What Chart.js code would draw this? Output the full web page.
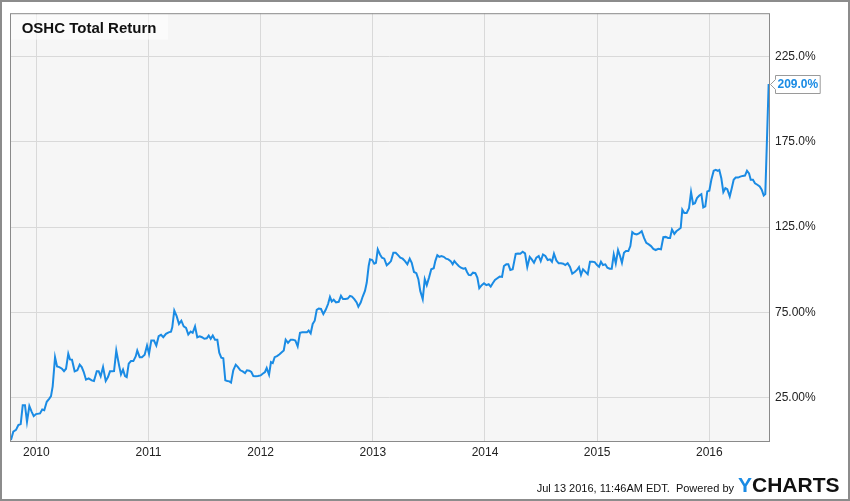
<!DOCTYPE html>
<html><head><meta charset="utf-8">
<script src="https://cdn.jsdelivr.net/npm/chart.js@4.4.0/dist/chart.umd.min.js"></script>
<style>html,body{margin:0;padding:0;background:#fff;}canvas{display:block;}</style>
</head><body>
<canvas id="c" width="850" height="501"></canvas>
<script>
const chartTitle = 'OSHC Total Return';
const footerText = 'Jul 13 2016, 11:46AM EDT.  Powered by';
const logoFirst = 'Y';
const logoRest = 'CHARTS';

// Dates as decimal years, values as total return in percent
const dates = [
2009.774,2009.795,2009.819,2009.840,2009.861,2009.879,2009.899,2009.917,2009.938,2009.959,2009.977,2009.997,2010.033,2010.053,2010.071,2010.093,2010.116,2010.131,2010.146,2010.167,2010.185,2010.205,2010.229,2010.247,2010.265,2010.285,2010.300,2010.318,2010.342,2010.366,2010.387,2010.405,2010.423,2010.443,2010.467,2010.494,2010.514,2010.539,2010.556,2010.574,2010.595,2010.619,2010.639,2010.657,2010.678,2010.693,2010.713,2010.738,2010.755,2010.773,2010.791,2010.806,2010.824,2010.844,2010.865,2010.886,2010.900,2010.922,2010.942,
2010.966,2010.987,2011.005,2011.025,2011.049,2011.070,2011.091,2011.112,2011.132,2011.156,2011.180,2011.201,2011.212,2011.230,2011.252,2011.272,2011.293,2011.314,2011.335,2011.355,2011.376,2011.394,2011.415,2011.435,2011.457,2011.477,2011.498,2011.519,2011.537,2011.555,2011.573,2011.593,2011.614,2011.631,2011.649,2011.667,2011.685,2011.703,2011.721,2011.736,2011.756,2011.778,2011.798,2011.819,2011.840,2011.861,2011.878,2011.899,2011.917,2011.935,2011.956,2011.976,2012.000,
2012.018,2012.039,2012.054,2012.075,2012.092,2012.108,2012.125,2012.146,2012.166,2012.188,2012.206,2012.223,2012.244,2012.268,2012.288,2012.309,2012.330,2012.351,2012.371,2012.393,2012.413,2012.428,2012.446,2012.464,2012.482,2012.500,2012.518,2012.538,2012.559,2012.580,2012.601,2012.618,2012.634,2012.651,2012.672,2012.696,2012.716,2012.734,2012.755,2012.776,2012.797,2012.814,2012.835,2012.856,2012.871,2012.892,2012.910,2012.930,2012.946,2012.963,2012.975,2012.995,2013.013,2013.028,2013.044,2013.064,2013.082,2013.102,2013.124,2013.144,
2013.162,2013.183,2013.204,2013.225,2013.245,2013.266,2013.287,2013.308,2013.329,2013.347,2013.367,2013.388,2013.406,2013.423,2013.445,2013.463,2013.481,2013.501,2013.521,2013.543,2013.557,2013.575,2013.593,2013.611,2013.632,2013.653,2013.673,2013.694,2013.712,2013.727,2013.744,2013.766,2013.786,2013.807,2013.825,2013.840,2013.855,2013.873,2013.893,2013.914,2013.932,2013.949,2013.971,2013.991,2014.012,2014.033,2014.051,2014.069,2014.089,2014.110,2014.131,2014.152,2014.169,2014.190,2014.208,2014.226,2014.247,
2014.274,2014.294,2014.315,2014.336,2014.357,2014.377,2014.399,2014.417,2014.437,2014.458,2014.479,2014.497,2014.517,2014.538,2014.559,2014.580,2014.597,2014.615,2014.636,2014.657,2014.678,2014.698,2014.716,2014.737,2014.758,2014.778,2014.800,2014.820,2014.838,2014.856,2014.874,2014.894,2014.916,2014.936,2014.957,2014.978,2014.999,2015.017,2015.034,2015.052,2015.073,2015.091,2015.112,2015.130,2015.148,2015.166,2015.186,2015.204,2015.221,2015.239,2015.257,2015.278,2015.296,2015.313,2015.331,2015.353,2015.373,
2015.397,2015.418,2015.438,2015.460,2015.480,2015.501,2015.522,2015.545,2015.569,2015.590,2015.611,2015.632,2015.650,2015.667,2015.688,2015.706,2015.727,2015.745,2015.759,2015.777,2015.798,2015.819,2015.837,2015.855,2015.872,2015.890,2015.911,2015.929,2015.946,2015.964,2015.982,2016.000,2016.018,2016.039,2016.057,2016.075,2016.089,2016.107,2016.125,2016.143,2016.160,2016.182,2016.200,2016.217,2016.235,2016.256,2016.276,2016.297,2016.318,2016.336,2016.354,2016.369,2016.389,2016.407,2016.428,2016.449,2016.467,2016.485,2016.499,2016.529
];
const returns = [
0.1,5.0,6.0,8.9,9.5,20.5,20.5,10.8,20.0,16.6,14.1,15.3,15.7,18.0,17.6,22.5,24.4,25.8,31.6,48.7,43.3,42.9,41.9,40.5,41.9,50.7,47.4,47.2,40.4,41.0,44.3,42.9,40.0,35.5,36.3,35.1,34.7,40.5,40.5,37.5,42.9,34.7,37.0,40.4,40.4,40.5,52.6,43.9,38.6,41.4,37.6,37.0,44.9,46.4,46.4,49.1,52.6,48.7,48.7,
50.1,55.5,50.7,58.5,58.5,55.5,61.0,61.8,60.4,62.4,63.3,63.7,66.2,76.0,72.6,68.2,70.1,66.8,65.9,62.0,63.7,63.0,66.8,60.4,61.0,60.4,59.5,59.8,61.4,59.5,61.4,58.9,58.9,51.3,48.4,48.1,35.1,34.7,34.5,33.8,41.0,44.3,42.9,41.0,40.4,39.4,41.0,40.8,40.0,37.6,37.5,37.6,38.0,
39.0,40.0,42.3,38.4,45.8,45.2,48.7,49.3,50.3,51.6,52.6,59.0,57.1,59.0,59.0,58.5,55.1,63.0,63.3,63.3,63.3,64.3,62.7,68.2,70.1,76.5,77.3,77.0,74.0,76.5,79.9,84.1,81.4,82.4,80.8,81.2,84.7,82.8,82.8,83.1,84.7,84.3,82.8,80.8,78.3,80.8,84.3,87.6,92.5,102.2,106.1,105.7,103.6,104.1,112.0,109.0,107.1,106.5,102.6,103.8,
105.1,110.0,110.0,108.6,107.1,106.5,105.1,103.2,106.5,104.1,98.7,98.0,94.5,87.6,82.8,94.5,91.0,95.4,100.3,100.9,105.1,108.6,107.6,108.1,107.6,106.5,106.1,105.1,103.2,105.1,103.8,102.2,101.2,100.6,100.9,98.7,97.0,96.8,98.3,98.0,95.4,89.2,91.0,92.1,91.0,91.5,90.1,92.1,94.0,95.0,96.0,95.8,102.2,103.2,103.2,99.9,100.3,
109.4,109.6,109.4,110.6,109.6,101.6,107.5,106.1,104.1,107.1,108.1,105.1,109.0,108.1,105.7,106.1,104.7,109.4,105.5,103.8,103.8,103.6,102.8,103.8,101.6,97.7,98.7,99.9,101.6,97.0,100.3,98.9,97.4,104.7,104.7,104.5,102.8,101.8,104.7,102.8,103.2,101.2,100.6,100.6,109.0,103.8,111.6,108.1,104.1,110.0,111.0,111.0,113.9,122.1,121.1,120.7,121.3,
122.6,118.7,115.8,114.9,113.9,112.3,111.6,112.3,112.0,119.1,119.3,118.7,118.7,123.6,121.1,122.6,123.6,124.6,135.3,133.3,133.3,136.2,145.6,138.6,139.1,142.1,143.6,144.4,136.6,137.2,146.0,146.4,152.8,158.1,158.6,158.1,158.6,153.7,145.6,147.9,147.3,143.1,147.9,152.8,154.1,154.1,154.7,155.1,155.3,158.1,156.6,152.8,152.8,150.8,149.9,148.9,147.0,143.6,144.4,209.0
];
const xTickYears = [2010, 2011, 2012, 2013, 2014, 2015, 2016];
const yTickValues = [25, 75, 125, 175, 225];
const yTickLabels = ['25.00%', '75.00%', '125.0%', '175.0%', '225.0%'];

const LINE = '#1a8be4';
const FONT = '"Liberation Sans", Arial, sans-serif';
Chart.defaults.font.family = FONT;

const n = Math.min(dates.length, returns.length);
const points = [];
for (let i = 0; i < n; i++) points.push({x: dates[i], y: returns[i]});

const deco = {
  id: 'deco',
  beforeDraw(chart) {
    const {ctx, chartArea: a} = chart;
    ctx.save();
    ctx.fillStyle = '#ffffff';
    ctx.fillRect(0, 0, chart.width, chart.height);
    ctx.fillStyle = '#f6f6f6';
    ctx.fillRect(a.left, a.top, a.right - a.left, a.bottom - a.top);
    ctx.restore();
  },
  beforeDatasetsDraw(chart) {
    const {ctx, chartArea: a} = chart;
    ctx.save();
    ctx.fillStyle = 'rgba(255,255,255,0.55)';
    ctx.fillRect(a.left + 1, a.top + 1, 157, 25.5);
    ctx.fillStyle = '#111';
    ctx.font = 'bold 15px ' + FONT;
    ctx.textBaseline = 'alphabetic';
    ctx.textAlign = 'left';
    ctx.fillText(chartTitle, a.left + 11.7, a.top + 19.3);
    ctx.restore();
  },
  afterDraw(chart) {
    const {ctx, chartArea: a} = chart;
    ctx.save();
    // plot border
    ctx.strokeStyle = '#8a8a8a';
    ctx.lineWidth = 1;
    ctx.strokeRect(a.left + 0.5, a.top + 0.5, a.right - a.left, a.bottom - a.top);
    // outer frame
    ctx.lineWidth = 2;
    ctx.strokeStyle = '#8c8c8c';
    ctx.strokeRect(1, 1, chart.width - 2, chart.height - 2);

    // last value flag
    const last = returns[n - 1];
    const yy = Math.round(chart.scales.y.getPixelForValue(last)) + 0.5;
    const label = last.toFixed(1) + '%';
    ctx.font = 'bold 12px ' + FONT;
    const tw = ctx.measureText(label).width;
    const bx = a.right + 6.5, bw = tw + 4, bh = 18;
    ctx.beginPath();
    ctx.moveTo(a.right + 1.5, yy);
    ctx.lineTo(bx, yy - 5);
    ctx.lineTo(bx, yy - bh / 2);
    ctx.lineTo(bx + bw, yy - bh / 2);
    ctx.lineTo(bx + bw, yy + bh / 2);
    ctx.lineTo(bx, yy + bh / 2);
    ctx.lineTo(bx, yy + 5);
    ctx.closePath();
    ctx.fillStyle = '#ffffff';
    ctx.fill();
    ctx.lineWidth = 1;
    ctx.strokeStyle = '#9a9a9a';
    ctx.stroke();
    ctx.fillStyle = LINE;
    ctx.textBaseline = 'middle';
    ctx.textAlign = 'left';
    ctx.fillText(label, bx + 2, yy + 0.5);

    // footer
    ctx.textBaseline = 'alphabetic';
    ctx.textAlign = 'right';
    ctx.font = '11px ' + FONT;
    ctx.fillStyle = '#111';
    ctx.fillText(footerText, 734, 492);
    ctx.textAlign = 'left';
    ctx.font = 'bold 21px ' + FONT;
    ctx.fillStyle = '#1a8be4';
    ctx.fillText(logoFirst, 738, 492);
    const yw = ctx.measureText(logoFirst).width;
    ctx.fillStyle = '#111';
    ctx.fillText(logoRest, 738 + yw, 492);
    ctx.restore();
  }
};

new Chart(document.getElementById('c').getContext('2d'), {
  type: 'line',
  data: {
    datasets: [{
      data: points,
      borderColor: LINE,
      borderWidth: 2,
      pointRadius: 0,
      pointHoverRadius: 0,
      tension: 0,
      fill: false
    }]
  },
  options: {
    responsive: false,
    animation: false,
    devicePixelRatio: 1,
    layout: {padding: {left: 10, top: 10, right: 0, bottom: 0}},
    plugins: {legend: {display: false}, tooltip: {enabled: false}, title: {display: false}},
    scales: {
      x: {
        type: 'linear',
        min: 2009.7655,
        max: 2016.532,
        grid: {color: '#d9d9d9', lineWidth: 1, drawTicks: false},
        border: {display: false},
        afterBuildTicks: s => { s.ticks = xTickYears.map(v => ({value: v})); },
        afterFit: s => { s.height = 60; },
        ticks: {padding: 4, color: '#222', font: {size: 12}, maxRotation: 0, autoSkip: false,
          callback: v => String(v)}
      },
      y: {
        type: 'linear',
        position: 'right',
        min: -0.5,
        max: 250.6,
        grid: {color: '#d9d9d9', lineWidth: 1, drawTicks: false},
        border: {display: false},
        afterBuildTicks: s => { s.ticks = yTickValues.map(v => ({value: v})); },
        afterFit: s => { s.width = 81; },
        ticks: {padding: 6, color: '#222', font: {size: 12},
          callback: v => { const i = yTickValues.indexOf(v); return i >= 0 ? yTickLabels[i] : ''; }}
      }
    }
  },
  plugins: [deco]
});
</script>
</body></html>
